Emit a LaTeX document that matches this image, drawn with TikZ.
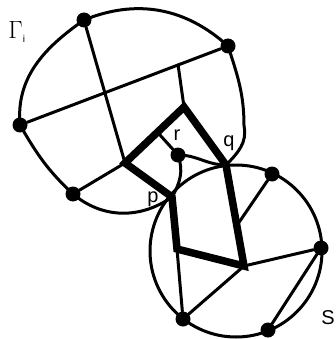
\documentclass[tikz,border=0pt]{standalone}
\usepackage{fontspec}
\setmainfont{Liberation Sans}
\usetikzlibrary{calc}

\begin{document}
\begin{tikzpicture}[
    x=1pt, y=1pt,
    dot/.style={circle, fill=black, inner sep=0pt, minimum size=15pt},
    edge/.style={line width=3pt, line cap=round},
    bound/.style={line width=3pt},
    heavy/.style={line width=7.5pt, line join=miter},
    lbl/.style={font=\fontsize{20}{22}\selectfont, inner sep=0pt}
  ]
  \useasboundingbox (0,0) rectangle (335,-339);

  % vertices
  \node[dot] (n1) at (84,-20)   {};
  \node[dot] (n2) at (228,-46)  {};
  \node[dot] (n3) at (20,-125)  {};
  \node[dot] (n4) at (73,-194)  {};
  \node[dot] (r)  at (178,-155) {};
  \node[dot] (n5) at (272,-174) {};
  \node[dot] (n6) at (321,-248) {};
  \node[dot] (n7) at (268,-330) {};
  \node[dot] (n8) at (183,-319) {};

  \coordinate (S)  at (236,-251);
  \coordinate (p)  at (172,-197);
  \coordinate (q)  at (226,-165);
  \coordinate (A)  at (125,-163);
  \coordinate (B)  at (184,-107);
  \coordinate (D)  at (244,-266);
  \coordinate (E)  at (177,-249);
  \coordinate (g1) at (244,-126);
  \coordinate (M)  at ($(n3)!0.76!(n2)$);
  \coordinate (R0) at ($(A)!0.55!(B)$);
  \coordinate (F)  at ($(q)!0.6!(D)$);

  % region S and boundary of Gamma_i
  \draw[bound] (S) circle[radius=86];
  \draw[bound] (p) to[out=215,in=-40] (n4.center)
    to[out=137,in=-60] (n3.center)
    to[out=95,in=215] (n1.center)
    to[out=22,in=138] (n2.center)
    to[out=-72,in=90] (g1)
    to[out=-78,in=45] (q)
    to[out=180,in=0] (r.center)
    to[out=-70,in=60] (p);

  \foreach \a/\b in {n1/A, n3/n2, M/B, n4/A, r/R0, n5/F, D/n6, D/n8, E/n8, n6/n7}
    \draw[edge] (\a) -- (\b);

  % thick cycle
  \draw[heavy] (A) -- (B) -- (q) -- (D) -- (E) -- (p) -- cycle;

  \node[lbl] (lp) at (153,-199) {p};
  \node[lbl] (lq) at (229,-143) {q};
  \node[lbl] (lr) at (177,-135) {r};
  \node[lbl] (lS) at (328,-318) {S};
  \node[inner sep=0pt, font=\fontsize{24}{26}\selectfont] (lG) at (17,-32)
    {$\Gamma_{\mbox{\fontsize{10}{10}\selectfont i}}$};

\end{tikzpicture}
\end{document}
